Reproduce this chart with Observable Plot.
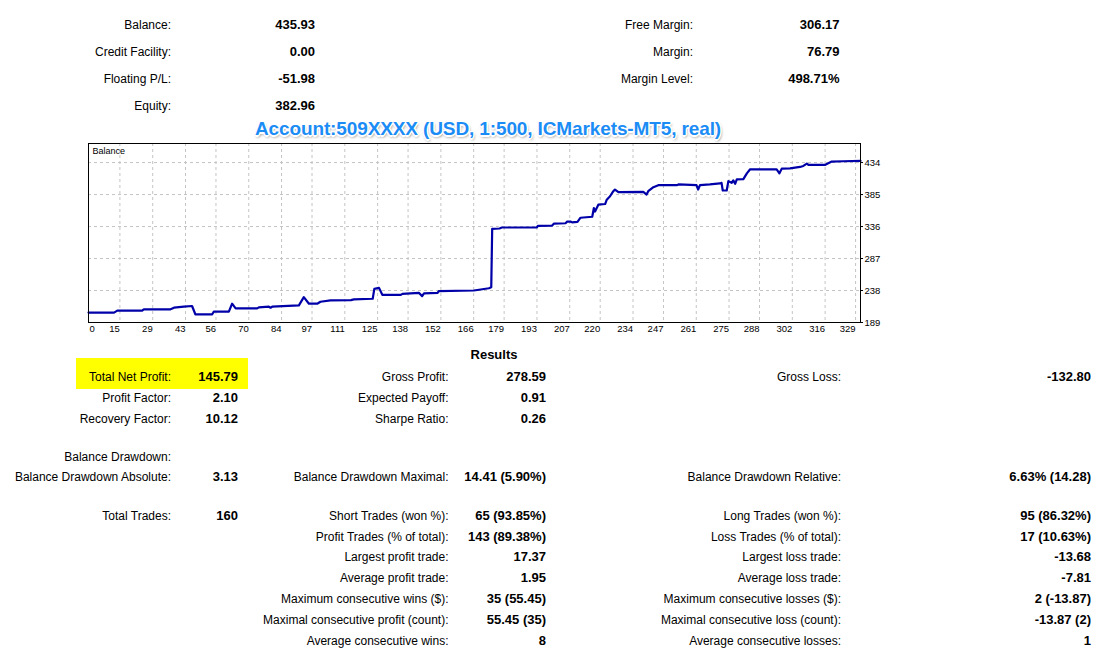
<!DOCTYPE html>
<html>
<head>
<meta charset="utf-8">
<script src="https://cdn.jsdelivr.net/npm/d3@7"></script>
<script src="https://cdn.jsdelivr.net/npm/@observablehq/plot@0.6"></script>
<style>
  body { margin: 0; background: #fff; }
  #page { position: relative; width: 1118px; height: 666px; overflow: hidden;
          font-family: "Liberation Sans", Arial, sans-serif; font-size: 12px; color: #000; background:#fff; }
  .t { position: absolute; height: 16px; line-height: 16px; white-space: nowrap; text-align: right; }
  .b { font-weight: bold; font-size: 13px; }
  #hl { position: absolute; left: 76px; top: 358px; width: 172px; height: 31px; background: #ffff00; }
  #title { position: absolute; left: 0; width: 976px; top: 116px; line-height: 26px; text-align: center; z-index: 5;
           font-size: 19px; font-weight: bold; letter-spacing: -0.12px; color: #1b8cf5;
           text-shadow: -1px -1px 0 #fff, 1px -1px 0 #fff, -1px 1px 0 #fff, 1px 1px 0 #fff,
                        0 -1.5px 0 #fff, 0 1.5px 0 #fff, -1.5px 0 0 #fff, 1.5px 0 0 #fff,
                        1px 2px 3px rgba(0,0,0,0.55); }
  #results { position: absolute; left: 0; width: 988px; top: 347px; line-height: 16px; text-align: center;
             font-weight: bold; font-size: 13px; }
  #chart { position: absolute; left: 0; top: 133px; z-index: 1; }
</style>
</head>
<body>
<div id="page">
  <div id="hl"></div>
  <div id="chart"></div>
  <div id="title">Account:509XXXX (USD, 1:500, ICMarkets-MT5, real)</div>
  <div id="results">Results</div>
</div>
<script>
// ---------- header account info ----------
const headerLeftLabels = ["Balance:", "Credit Facility:", "Floating P/L:", "Equity:"];
const headerLeftValues = ["435.93", "0.00", "-51.98", "382.96"];
const headerRightLabels = ["Free Margin:", "Margin:", "Margin Level:"];
const headerRightValues = ["306.17", "76.79", "498.71%"];

// ---------- results table ----------
const col1Labels = ["Total Net Profit:", "Profit Factor:", "Recovery Factor:", "Balance Drawdown:", "Balance Drawdown Absolute:", "Total Trades:"];
const col1Values = ["145.79", "2.10", "10.12", "", "3.13", "160"];
const col1Rows = [0, 1, 2, 3, 4, 5];
const col2Labels = ["Gross Profit:", "Expected Payoff:", "Sharpe Ratio:", "Balance Drawdown Maximal:", "Short Trades (won %):",
  "Profit Trades (% of total):", "Largest profit trade:", "Average profit trade:", "Maximum consecutive wins ($):",
  "Maximal consecutive profit (count):", "Average consecutive wins:"];
const col2Values = ["278.59", "0.91", "0.26", "14.41 (5.90%)", "65 (93.85%)", "143 (89.38%)", "17.37", "1.95", "35 (55.45)", "55.45 (35)", "8"];
const col2Rows = [0, 1, 2, 4, 5, 6, 7, 8, 9, 10, 11];
const col3Labels = ["Gross Loss:", "Balance Drawdown Relative:", "Long Trades (won %):", "Loss Trades (% of total):",
  "Largest loss trade:", "Average loss trade:", "Maximum consecutive losses ($):", "Maximal consecutive loss (count):", "Average consecutive losses:"];
const col3Values = ["-132.80", "6.63% (14.28)", "95 (86.32%)", "17 (10.63%)", "-13.68", "-7.81", "2 (-13.87)", "-13.87 (2)", "1"];
const col3Rows = [0, 4, 5, 6, 7, 8, 9, 10, 11];

// ---------- balance chart ----------
const chartLabel = "Balance";
const xTickLabels = [0, 15, 29, 43, 56, 70, 84, 97, 111, 125, 138, 152, 166, 179, 193, 207, 220, 234, 247, 261, 275, 288, 302, 316, 329];
const yTickLabels = [189, 238, 287, 336, 385, 434];
const balanceX = [1.6, 12.5, 13.9, 24.5, 25.2, 36.6, 38.1, 42.3, 45.8, 47.2, 54.4, 55.1, 61.5, 62.9, 64.4, 73.6, 74.3, 78.6, 79.3, 80.0,
  91.4, 93.5, 95.7, 99.2, 100.6, 104.9, 113.6, 114.9, 122.9, 123.6, 125.6, 127.0, 134.9, 135.6, 142.6, 144.0, 144.8, 150.6, 151.1,
  166.1, 169.0, 172.5, 173.5, 173.9, 177.0, 178.0, 192.9, 193.4, 199.5, 200.3, 205.2, 205.9, 207.3, 208.0, 210.3, 211.6, 216.6,
  217.3, 217.8, 219.2, 222.1, 222.8, 224.2, 225.6, 226.3, 227.8, 238.4, 239.8, 240.5, 242.7, 244.8, 252.7, 253.4, 261.1, 261.8,
  262.6, 266.8, 271.1, 271.8, 272.3, 274.0, 274.7, 276.1, 276.8, 277.6, 278.3, 281.1, 282.6, 284.0, 295.3, 296.5, 297.5, 301.0,
  305.3, 306.7, 308.2, 308.9, 315.9, 318.8, 323.8, 331.1];
const balanceY = [204.2, 204.2, 207.2, 207.2, 209.2, 209.2, 211.7, 213.2, 214.3, 201.6, 201.6, 205.7, 205.7, 217.8, 210.7, 210.7,
  212.2, 213.2, 211.7, 213.2, 215.3, 227.9, 217.8, 217.8, 220.8, 222.8, 223.3, 224.4, 225.4, 240.5, 242.0, 231.4, 231.4, 232.9,
  234.5, 229.4, 233.5, 234.5, 237.0, 238.0, 239.5, 241.5, 243.0, 332.5, 333.0, 334.5, 334.5, 337.0, 337.5, 340.5, 341.0, 343.5,
  343.5, 342.5, 343.0, 349.5, 351.0, 364.3, 359.0, 369.5, 370.5, 377.2, 382.4, 390.1, 392.7, 388.6, 389.1, 385.0, 390.1, 396.3,
  399.4, 399.4, 400.5, 399.4, 392.7, 399.4, 400.5, 402.0, 403.0, 391.2, 391.2, 405.6, 403.0, 406.7, 401.5, 408.2, 408.7, 417.5,
  423.7, 423.7, 417.5, 424.7, 425.2, 427.3, 428.8, 432.5, 430.4, 430.4, 435.5, 436.0, 436.5];

// ---------- layout (positions only) ----------
const headerRowY = [25, 52, 79, 106];
const resultRowY = [376.5, 397.7, 419, 456.7, 477.3, 515.7, 536.7, 557.3, 578.3, 599, 620.3, 641.3];
const page = document.getElementById("page");
function put(text, right, cy, bold) {
  const d = document.createElement("div");
  d.className = "t" + (bold ? " b" : "");
  d.style.left = "0px";
  d.style.width = right + "px";
  d.style.top = (cy - 8) + "px";
  d.textContent = text;
  page.appendChild(d);
}
headerLeftLabels.forEach((s, i) => put(s, 171, headerRowY[i], false));
headerLeftValues.forEach((s, i) => put(s, 315, headerRowY[i], true));
headerRightLabels.forEach((s, i) => put(s, 693, headerRowY[i], false));
headerRightValues.forEach((s, i) => put(s, 839.5, headerRowY[i], true));
col1Labels.forEach((s, i) => put(s, 171, resultRowY[col1Rows[i]], false));
col1Values.forEach((s, i) => put(s, 238, resultRowY[col1Rows[i]], true));
col2Labels.forEach((s, i) => put(s, 448.5, resultRowY[col2Rows[i]], false));
col2Values.forEach((s, i) => put(s, 546, resultRowY[col2Rows[i]], true));
col3Labels.forEach((s, i) => put(s, 841, resultRowY[col3Rows[i]], false));
col3Values.forEach((s, i) => put(s, 1091, resultRowY[col3Rows[i]], true));

const xDomain = [1.6, 331.1];
const gridStyle = {stroke: "#c4c4c4", strokeDasharray: "3,3", strokeWidth: 1};
const chart = Plot.plot({
  width: 900,
  height: 210,
  marginLeft: 88,
  marginRight: 40,
  marginTop: 10,
  marginBottom: 21,
  style: {fontFamily: "'Liberation Sans', Arial, sans-serif", fontSize: "9.5px", background: "transparent", color: "#000"},
  x: {domain: xDomain, axis: null},
  y: {domain: [189, 463.2], axis: null},
  marks: [
    Plot.ruleX(xTickLabels.slice(1), {...gridStyle}),
    Plot.ruleY(yTickLabels.slice(1), {...gridStyle}),
    Plot.line(balanceY, {x: balanceX, y: balanceY, stroke: "#0000a8", strokeWidth: 2.2, strokeLinejoin: "round"}),
    Plot.frame({stroke: "#000", strokeWidth: 1}),
    Plot.ruleY(yTickLabels, {x1: xDomain[1], x2: xDomain[1] + 1.3, stroke: "#000"}),
    Plot.text(yTickLabels, {y: d => d, text: d => String(d), frameAnchor: "right", textAnchor: "start", dx: 4, fill: "#000"}),
    Plot.text(xTickLabels.slice(0, 1), {text: d => String(d), frameAnchor: "bottom-left", textAnchor: "start", lineAnchor: "top", dx: 1, dy: 3, fill: "#000"}),
    Plot.text(xTickLabels.slice(1), {x: d => d, text: d => String(d), frameAnchor: "bottom", textAnchor: "end", lineAnchor: "top", dx: 0, dy: 3, fill: "#000"}),
    Plot.text([chartLabel], {text: d => d, frameAnchor: "top-left", textAnchor: "start", lineAnchor: "top", dx: 4, dy: 4, fontSize: 9, fill: "#000"})
  ]
});
document.getElementById("chart").appendChild(chart);
</script>
</body>
</html>
